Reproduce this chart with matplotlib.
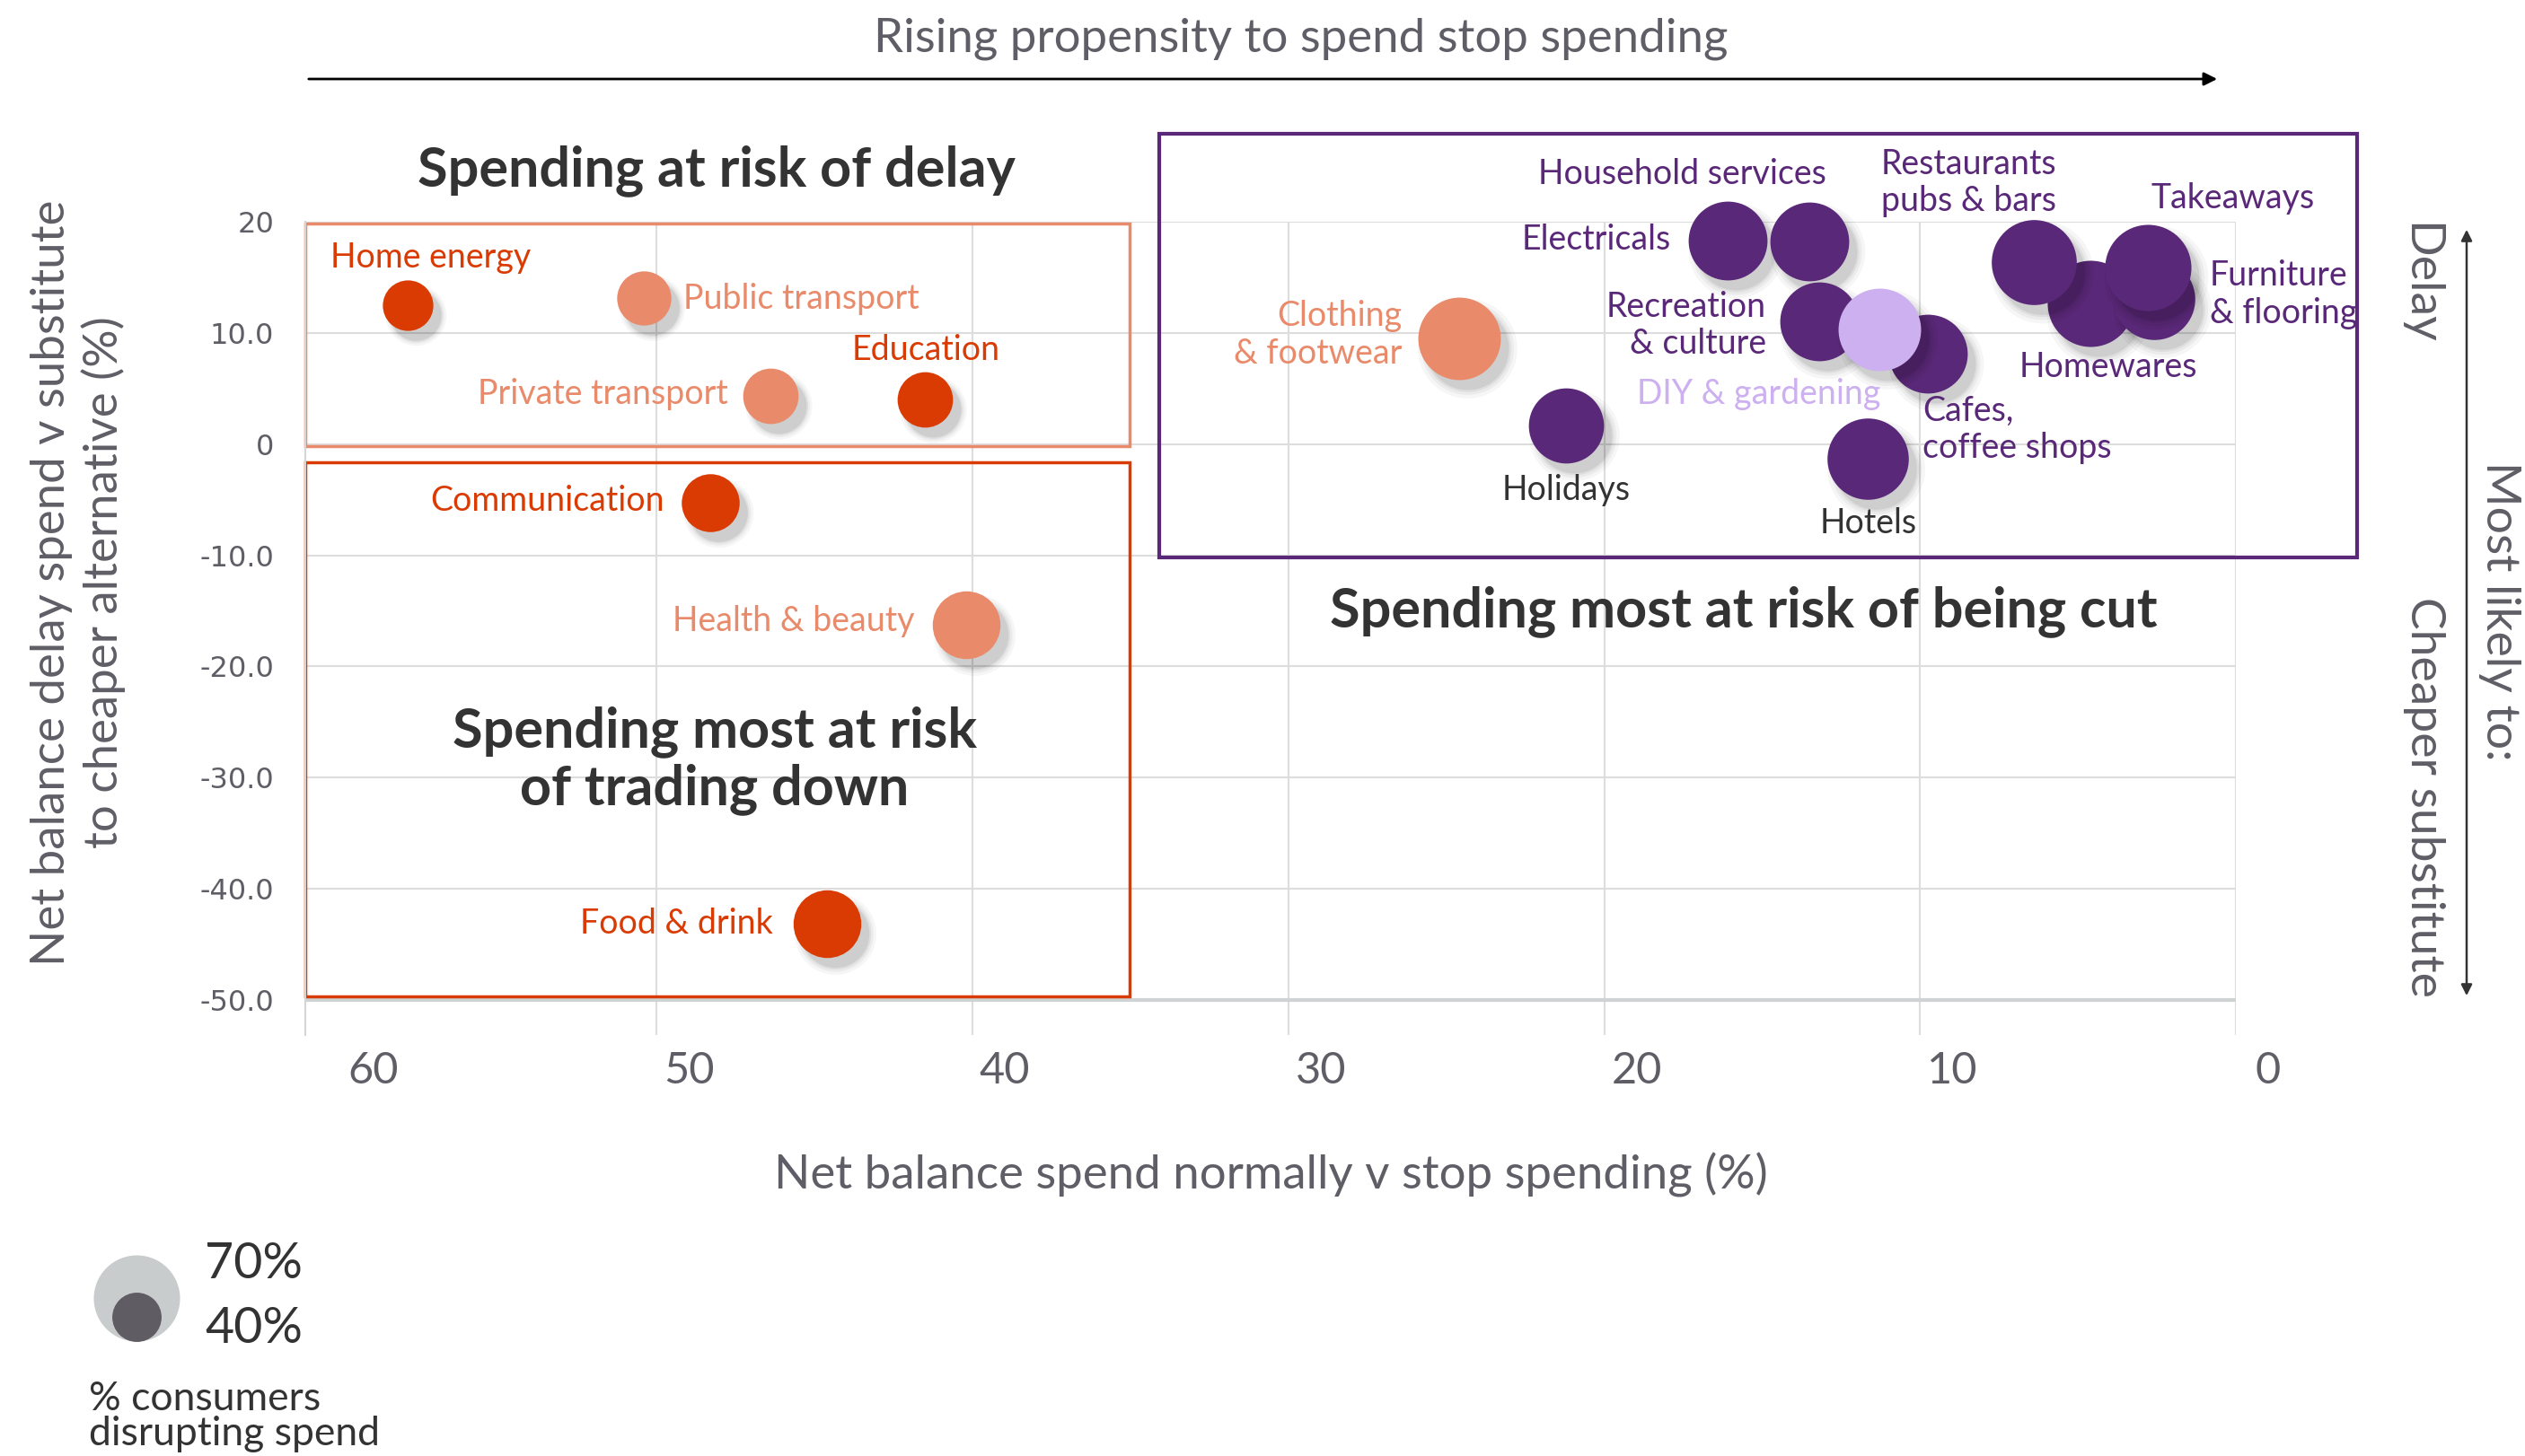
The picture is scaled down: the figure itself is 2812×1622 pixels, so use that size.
import matplotlib
matplotlib.use("Agg")
import matplotlib.pyplot as plt
from matplotlib.patches import Rectangle, FancyArrowPatch
from matplotlib.transforms import ScaledTranslation

plt.rcParams["font.family"] = ["Lato", "DejaVu Sans"]

# --- data ---
categories = [
    "Home energy", "Public transport", "Private transport", "Education",
    "Communication", "Health & beauty", "Food & drink", "Clothing & footwear",
    "Holidays", "Electricals", "Household services", "Hotels",
    "Cafes, coffee shops", "Recreation & culture", "DIY & gardening",
    "Homewares", "Furniture & flooring", "Restaurants pubs & bars", "Takeaways",
]
stop_spending = [57.9, 50.4, 46.4, 41.5, 48.3, 40.2, 44.6, 24.6,
                 21.2, 16.1, 13.5, 11.65, 9.75, 13.2, 11.3,
                 4.6, 2.6, 6.4, 2.8]
delay_vs_substitute = [12.5, 13.1, 4.3, 4.05, -5.3, -16.25, -43.1, 9.5,
                       1.7, 18.3, 18.2, -1.3, 8.1, 11.0, 10.3,
                       12.65, 13.05, 16.4, 15.9]
disrupting_pct = [41, 44, 45, 45, 47, 55, 55, 67,
                  61, 64, 64, 66, 64, 64, 67,
                  70, 66, 69, 70]
groups = ["red", "salmon", "salmon", "red", "red", "salmon", "red", "salmon",
          "purple", "purple", "purple", "purple", "purple", "purple", "lavender",
          "purple", "purple", "purple", "purple"]

x_ticks = [60, 50, 40, 30, 20, 10, 0]
y_ticks = [20, 10, 0, -10, -20, -30, -40, -50]
y_tick_labels = ["20", "10.0", "0", "-10.0", "-20.0", "-30.0", "-40.0", "-50.0"]
legend_pct = [70, 40]

# --- style ---
COLORS = {"red": "#d93b03", "salmon": "#e98a6a", "purple": "#5a2878", "lavender": "#ccb0ef"}
GREY = "#5f5e66"
DARK = "#333333"

# label layout: (text, dx px, dy px, ha)
label_layout = {
    "Home energy": ("Home energy", -86, 53, "left"),
    "Public transport": ("Public transport", 44, -1, "left"),
    "Private transport": ("Private transport", -47, 2, "right"),
    "Education": ("Education", 1, 55, "center"),
    "Communication": ("Communication", -51, 2, "right"),
    "Health & beauty": ("Health & beauty", -58, 4, "right"),
    "Food & drink": ("Food & drink", -61, 0, "right"),
    "Clothing & footwear": ("Clothing\n& footwear", -63, 4, "right"),
    "Holidays": ("Holidays", 0, -72, "center"),
    "Electricals": ("Electricals", -63, 1, "right"),
    "Household services": ("Household services", -142, 75, "center"),
    "Hotels": ("Hotels", 0, -72, "center"),
    "Cafes, coffee shops": ("Cafes,\ncoffee shops", -6, -84, "left"),
    "Recreation & culture": ("Recreation\n& culture", -59, -4, "right"),
    "DIY & gardening": ("DIY & gardening", 2, -72, "right"),
    "Homewares": ("Homewares", 20, -71, "center"),
    "Furniture & flooring": ("Furniture\n& flooring", 62, 5, "left"),
    "Restaurants pubs & bars": ("Restaurants\npubs & bars", -72, 88, "center"),
    "Takeaways": ("Takeaways", 95, 77, "center"),
}
dark_labels = ["Holidays", "Hotels"]

W, H = 2812, 1622
fig = plt.figure(figsize=(W / 100, H / 100), dpi=100)


def fx(px):
    return px / W


def fy(py):
    return 1 - py / H


def marker_area(pct):
    r_px = 0.686 * pct
    return (2 * r_px * 0.72) ** 2


ax = fig.add_axes([fx(340), fy(1153), fx(2490) - fx(340), fy(247) - fy(1153)])
ax.set_xlim(61.13, 0)
ax.set_ylim(-53.15, 20)

# grid
ax.set_xticks(x_ticks[1:])
ax.set_yticks(y_ticks, y_tick_labels)
ax.grid(True, color="#dddddd", lw=1.5, zorder=0)
ax.set_axisbelow(True)
for side in ["top", "right", "bottom"]:
    ax.spines[side].set_visible(False)
ax.spines["left"].set_color("#d5d5d5")
ax.spines["left"].set_linewidth(1.5)
ax.axhline(-50, color="#cfd3d3", lw=3, zorder=1)
ax.tick_params(axis="both", length=0)
ax.tick_params(axis="y", pad=25, labelsize=23, labelcolor=GREY)
for lbl in ax.get_yticklabels():
    lbl.set_fontfamily("DejaVu Sans")
ax.set_xticklabels([])
xlab_trans = ax.get_xaxis_transform() + ScaledTranslation(0.36, 0, fig.dpi_scale_trans)
for t in x_ticks:
    ax.text(t, -0.044, str(t), transform=xlab_trans, ha="center", va="center",
            fontsize=35, color=GREY)

# quadrant boxes
ax.add_patch(Rectangle((61.13, -0.2), 35.03 - 61.13, 19.85 + 0.2, fill=False,
                       ec=COLORS["salmon"], lw=2.5, zorder=2, clip_on=False))
ax.add_patch(Rectangle((61.13, -49.7), 35.03 - 61.13, -1.6 + 49.7, fill=False,
                       ec=COLORS["red"], lw=2.5, zorder=2, clip_on=False))
ax.add_patch(Rectangle((34.1, -10.2), -3.84 - 34.1, 27.9 + 10.2, fill=False,
                       ec=COLORS["purple"], lw=3, zorder=2, clip_on=False))

# bubbles with soft shadow
shadow = ax.transData + ScaledTranslation(0.09, -0.11, fig.dpi_scale_trans)
z = 3
for name, x, y, pct, g in zip(categories, stop_spending, delay_vs_substitute,
                              disrupting_pct, groups):
    s = marker_area(pct)
    for grow, a in [(1.45, 0.035), (1.25, 0.045), (1.1, 0.055), (1.0, 0.07)]:
        ax.scatter([x], [y], s=s * grow, color="black", alpha=a, lw=0,
                   transform=shadow, zorder=z, clip_on=False)
    ax.scatter([x], [y], s=s, color=COLORS[g], lw=0, zorder=z + 0.5, clip_on=False)
    z += 1
    text, dx, dy, ha = label_layout[name]
    col = DARK if name in dark_labels else COLORS[g]
    ax.annotate(text, (x, y), xytext=(dx, dy), textcoords="offset pixels",
                ha=ha, va="center", multialignment=ha,
                fontsize=27, color=col, zorder=100, annotation_clip=False)

# quadrant titles
fig.text(fx(798), fy(190), "Spending at risk of delay", ha="center", va="center",
         fontsize=44, fontweight="bold", color=DARK)
fig.text(fx(796), fy(847), "Spending most at risk\nof trading down", ha="center",
         va="center", fontsize=44, fontweight="bold", color=DARK, linespacing=1.15)
fig.text(fx(1942), fy(681), "Spending most at risk of being cut", ha="center",
         va="center", fontsize=44, fontweight="bold", color=DARK)

# axis titles and direction cues
fig.text(fx(1449), fy(43), "Rising propensity to spend stop spending", ha="center",
         va="center", fontsize=38, color=GREY)
fig.add_artist(FancyArrowPatch((fx(341), fy(88)), (fx(2472), fy(88)),
                               transform=fig.transFigure, arrowstyle="-|>",
                               mutation_scale=22, color="black", lw=2))
fig.text(fx(1415), fy(1309), "Net balance spend normally v stop spending (%)",
         ha="center", va="center", fontsize=38, color=GREY)
fig.text(fx(87), fy(649), "Net balance delay spend v substitute\nto cheaper alternative (%)",
         ha="center", va="center", rotation=90, fontsize=38, color=GREY, linespacing=1.25)

fig.text(fx(2695), fy(316), "Delay", ha="center", va="center", rotation=-90,
         fontsize=38.5, color=GREY)
fig.text(fx(2699), fy(888), "Cheaper substitute", ha="center", va="center",
         rotation=-90, fontsize=38.5, color=GREY)
fig.text(fx(2783), fy(681), "Most likely to:", ha="center", va="center",
         rotation=-90, fontsize=38.5, color=GREY)
fig.add_artist(FancyArrowPatch((fx(2747), fy(253)), (fx(2747), fy(1112)),
                               transform=fig.transFigure, arrowstyle="<|-|>",
                               mutation_scale=18, color=DARK, lw=1.8))

# size legend
legend_colors = ["#c9cccd", "#5f5c64"]
for pct, col in zip(legend_pct, legend_colors):
    r = 0.686 * pct
    ax.scatter([fx(152)], [fy(1494 - r)], s=marker_area(pct), color=col, lw=0,
               transform=fig.transFigure, clip_on=False, zorder=5)
fig.text(fx(228), fy(1408), f"{legend_pct[0]}%", ha="left", va="center",
         fontsize=40, color=DARK)
fig.text(fx(228), fy(1480), f"{legend_pct[1]}%", ha="left", va="center",
         fontsize=40, color=DARK)
fig.text(fx(99), fy(1578), "% consumers\ndisrupting spend", ha="left", va="center",
         fontsize=32, color=DARK, linespacing=0.95)

fig.savefig("out.png", dpi=100, facecolor="white")
